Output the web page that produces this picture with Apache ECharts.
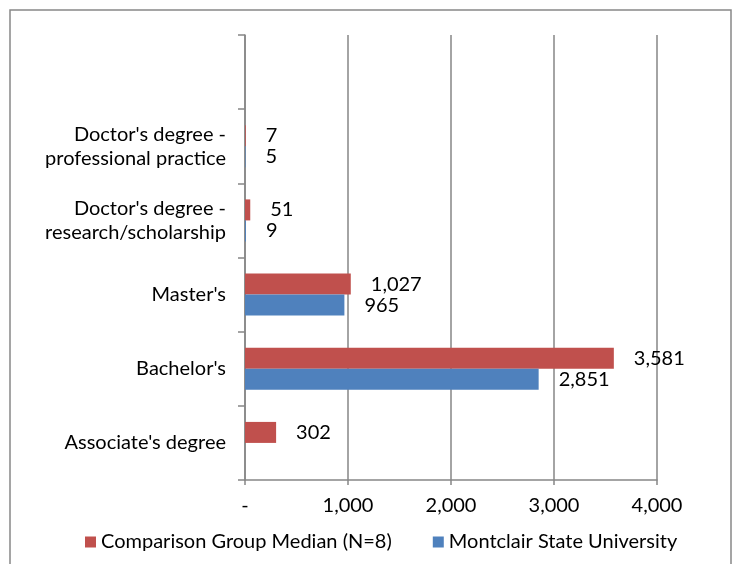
<!DOCTYPE html>
<html><head><meta charset="utf-8">
<script src="https://cdn.jsdelivr.net/npm/echarts@6/dist/echarts.min.js"></script>
<style>html,body{margin:0;padding:0;background:#fff}#c{width:735px;height:564px}</style>
</head><body><div id="c"></div>
<script>
const categories = ["Associate's degree", "Bachelor's", "Master's", "Doctor's degree -\nresearch/scholarship", "Doctor's degree -\nprofessional practice", ""];
const comparisonValues = [302, 3581, 1027, 51, 7, null];
const montclairValues = [null, 2851, 965, 9, 5, null];
const xTicks = [0, 1000, 2000, 3000, 4000];

const fmt = v => v === 0 ? '-' : v.toLocaleString('en-US');
const font = 'Lato, "Open Sans", sans-serif';
const fs = 20;
const chart = echarts.init(document.getElementById('c'));
const labelCfg = {show: true, position: 'right', distance: 20, color: '#000', fontSize: fs, fontFamily: font,
  formatter: p => p.value == null ? '' : fmt(p.value)};
chart.setOption({
  animation: false,
  graphic: [{type: 'rect', shape: {x: 10, y: 10, width: 721, height: 600}, style: {fill: 'none', stroke: '#888', lineWidth: 1.5}, z: -1}],
  grid: {left: 245, right: 78, top: 35, bottom: 84},
  legend: {
    bottom: 7, left: 80, itemWidth: 11, itemHeight: 11, itemGap: 41, icon: 'rect',
    textStyle: {fontSize: fs, fontFamily: font, color: '#000'},
    data: ['Comparison Group Median (N=8)', 'Montclair State University']
  },
  xAxis: {
    type: 'value', min: xTicks[0], max: xTicks[xTicks.length - 1], interval: 1000,
    axisLine: {show: true, lineStyle: {color: '#868686', width: 1.5}},
    axisTick: {show: true, length: 5, lineStyle: {color: '#868686', width: 1.5}},
    splitLine: {show: true, lineStyle: {color: '#868686', width: 1.5}},
    axisLabel: {formatter: fmt, fontSize: fs, fontFamily: font, color: '#000', margin: 16}
  },
  yAxis: {
    type: 'category', data: categories,
    axisLine: {show: true, lineStyle: {color: '#868686', width: 1.5}},
    axisTick: {show: true, length: 7, lineStyle: {color: '#868686', width: 1.5}},
    axisLabel: {fontSize: fs, fontFamily: font, color: '#000', margin: 19, lineHeight: 24, align: 'right'}
  },
  series: [
    {name: 'Comparison Group Median (N=8)', type: 'bar', data: comparisonValues, barWidth: 21, barGap: '0%',
      itemStyle: {color: '#C0504D'}, label: labelCfg},
    {name: 'Montclair State University', type: 'bar', data: montclairValues, barWidth: 21, barGap: '0%',
      itemStyle: {color: '#4F81BD'}, label: labelCfg}
  ]
});
</script></body></html>
